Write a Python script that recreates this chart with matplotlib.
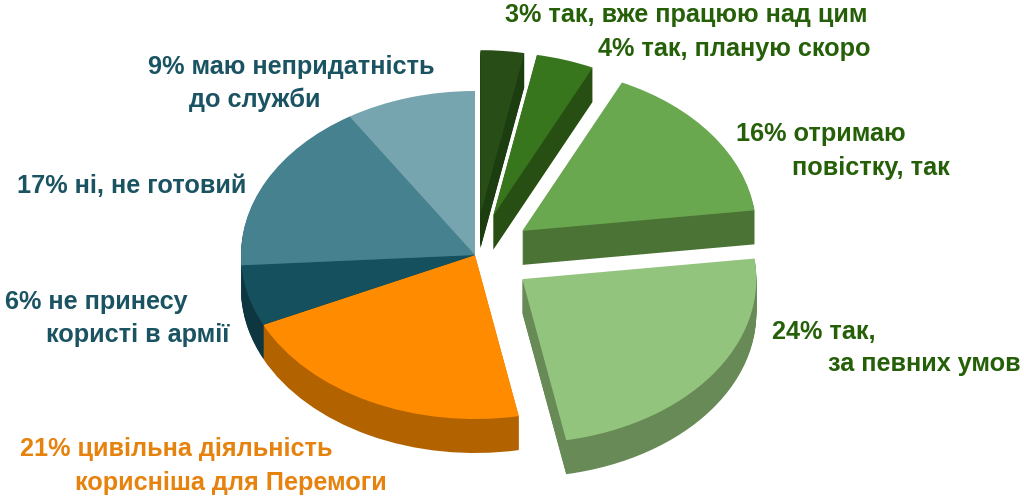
import matplotlib
matplotlib.use('Agg')
import numpy as np
import matplotlib.pyplot as plt

plt.rcParams['font.family'] = ['Liberation Sans', 'DejaVu Sans']

# частки опитування, за годинниковою стрілкою від верху
shares = [3, 4, 16, 24, 21, 6, 17, 9]
labels = [
    '3% так, вже працюю над цим',
    '4% так, планую скоро',
    '16% отримаю',
    'повістку, так',
    '24% так,',
    'за певних умов',
    '21% цивільна діяльність',
    'корисніша для Перемоги',
    '6% не принесу',
    'користі в армії',
    '17% ні, не готовий',
    '9% маю непридатність',
    'до служби',
]

# стилі
top_colors = ['#284D17', '#38761D', '#6AA84F', '#93C47D', '#FF8C00', '#15505E', '#45818E', '#76A5AF']
side_colors = ['#1C3D10', '#274E13', '#4A7335', '#678A57', '#B36200', '#0D3640', '#30606A', '#527A82']
explode = [0.25, 0.25, 0.25, 0.25, 0, 0, 0, 0]

GREEN = '#256009'
BLUE = '#1A5361'
ORANGE = '#E6820E'
label_colors = [GREEN] * 6 + [ORANGE] * 2 + [BLUE] * 3 + [BLUE] * 2
# ліва межа та базова лінія кожного підпису, в пікселях
label_pos = [(505, 22), (598, 56), (736, 141), (792, 175), (772, 339), (828, 371),
             (20, 456), (75, 490), (5, 309), (46, 342), (17, 193), (148, 74), (189, 107)]

W, H = 1024, 496
cx, cy = 475, 255   # центр круга
rx, ry = 234, 164   # півосі еліпса
depth = 34          # товщина, пікселі

fig = plt.figure(figsize=(W / 100, H / 100), dpi=100)
ax = fig.add_axes([0, 0, 1, 1])

# бокові стінки шарами знизу вгору
for k in range(depth, 0, -1):
    ax.pie(shares, colors=side_colors, explode=explode, startangle=90, counterclock=False,
           center=(0, -k / ry), wedgeprops={'linewidth': 0})
ax.pie(shares, colors=top_colors, explode=explode, startangle=90, counterclock=False,
       center=(0, 0), wedgeprops={'linewidth': 0})

ax.set_aspect('auto')
ax.set_xlim(-cx / rx, (W - cx) / rx)
ax.set_ylim(-(H - cy) / ry, cy / ry)
ax.axis('off')

for text, color, (x, y) in zip(labels, label_colors, label_pos):
    fig.text(x / W, 1 - y / H, text, color=color, fontsize=18.2, fontweight='bold',
             ha='left', va='baseline')

fig.savefig('out.png', dpi=100, facecolor='white')
